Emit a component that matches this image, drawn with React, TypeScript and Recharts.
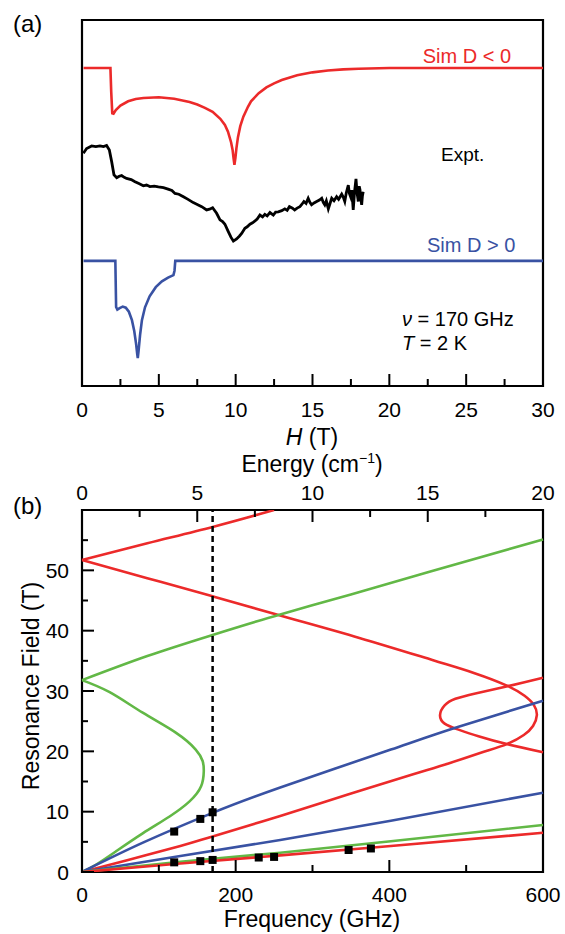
import {
  ComposedChart,
  Line,
  Scatter,
  XAxis,
  YAxis,
  ReferenceArea,
  ReferenceLine
} from "recharts"

const FONT = '"Liberation Sans", Arial, Helvetica, sans-serif'
const RED = "#ec2a2a"
const BLUE = "#3952a3"
const GREEN = "#62b846"

// (a) spectra at 170 GHz : [H (T), intensity (arb., offset)]
const simNeg: [number, number][] = [
  [0.1, 86.9], [1.85, 86.9], [1.9, 80.5], [1.97, 74.5], [2.05, 74.4], [2.2, 75.4],
  [2.5, 76.6], [3, 77.8], [3.5, 78.4], [4, 78.7], [5, 78.9], [6, 78.5], [7, 77.6],
  [7.5, 76.9], [8, 76.0], [8.5, 74.9], [9, 73.0], [9.3, 71.3], [9.5, 69.5], [9.7, 66.6],
  [9.8, 64.5], [9.87, 62.0], [9.92, 60.4], [9.98, 62.2], [10.05, 65.0], [10.15, 68.0],
  [10.3, 71.0], [10.5, 73.6], [10.8, 76.3], [11, 77.8], [11.5, 80.0], [12, 81.6],
  [12.5, 82.7], [13, 83.6], [14, 84.9], [15, 85.7], [16, 86.2], [17, 86.5], [18, 86.7],
  [20, 86.9], [30, 86.9]
]

const expt: [number, number][] = [
  [0.09, 63.6], [0.3, 64.9], [0.63, 65.6], [0.9, 65.4], [1.17, 65.6], [1.4, 65.4], [1.6, 65.7],
  [1.78, 64.5], [1.93, 61.3], [2.08, 57.7], [2.26, 56.9], [2.42, 57.3], [2.58, 57.5],
  [2.75, 57.0], [2.9, 56.7], [3.2, 56.4], [3.45, 55.8], [3.7, 55.3], [3.99, 54.7],
  [4.2, 54.9], [4.42, 54.5], [4.7, 54.6], [4.97, 54.4], [5.3, 54.2], [5.6, 53.8],
  [5.85, 53.4], [6.05, 52.6], [6.3, 52.4], [6.6, 51.7], [6.9, 51.0], [7.24, 50.1],
  [7.5, 49.6], [7.79, 49.0], [8.11, 48.1], [8.3, 48.3], [8.5, 48.7], [8.76, 47.2],
  [8.98, 45.4], [9.15, 44.9], [9.3, 44.2], [9.52, 42.2], [9.7, 40.6], [9.85, 39.6],
  [10.06, 40.2], [10.25, 41.0], [10.39, 41.7], [10.6, 43.1], [10.75, 43.5], [10.93, 44.2],
  [11.1, 44.6], [11.26, 45.1], [11.4, 45.6], [11.58, 46.7], [11.75, 46.2], [11.9, 46.9],
  [12.05, 46.5], [12.23, 47.4], [12.45, 46.7], [12.6, 47.5], [12.77, 47.6], [13.0, 47.9],
  [13.2, 48.4], [13.35, 48.0], [13.5, 49.0], [13.7, 48.6], [13.84, 48.1], [14.0, 48.6],
  [14.18, 49.0], [14.3, 49.6], [14.44, 50.4], [14.58, 49.9], [14.72, 51.3], [14.83, 50.2],
  [14.94, 49.5], [15.1, 50.0], [15.27, 50.4], [15.45, 50.8], [15.6, 51.3], [15.7, 50.2],
  [15.8, 49.5], [15.9, 50.6], [16.03, 48.4], [16.15, 50.0], [16.25, 51.3], [16.4, 50.6],
  [16.57, 51.7], [16.7, 51.0], [16.9, 52.4], [17.0, 51.6], [17.1, 50.4], [17.2, 52.8],
  [17.33, 54.9], [17.4, 52.6], [17.48, 51.7], [17.56, 53.5], [17.65, 48.1], [17.74, 53.2],
  [17.83, 56.6], [17.9, 52.8], [17.98, 50.4], [18.04, 54.6], [18.09, 53.6], [18.15, 51.0],
  [18.2, 49.5], [18.25, 52.0], [18.3, 53.1]
]

const simPos: [number, number][] = [
  [0.1, 34.2], [2.17, 34.2], [2.22, 21.6], [2.3, 20.9], [2.45, 21.3], [2.65, 21.7],
  [2.85, 21.4], [3.05, 20.3], [3.25, 18.0], [3.4, 15.0], [3.52, 11.5], [3.6, 8.5],
  [3.63, 7.6], [3.68, 9.5], [3.78, 14.0], [3.9, 18.0], [4.1, 21.5], [4.4, 24.5],
  [4.8, 27.0], [5.2, 28.6], [5.6, 29.6], [5.95, 30.3], [6.02, 31.5], [6.07, 34.2],
  [30, 34.2]
]

const hTicks = [0, 2.5, 5, 7.5, 10, 12.5, 15, 17.5, 20, 22.5, 25, 27.5, 30]

// (b) resonance field vs frequency : [f (GHz), B (T)]
const redTop: [number, number][] = [[0, 51.7], [85, 54.5], [170, 57.2], [250, 60.0]]
const redMid: [number, number][] = [
  [0, 51.7], [85, 48.7], [170, 45.7], [258, 42.5], [361, 38.8], [457, 35.1], [510, 33.0],
  [553, 30.9], [576, 29.2], [588, 27.7], [592, 26.0], [587, 24.2], [575, 22.7], [553, 21.2],
  [520, 19.8], [477, 18.0], [431, 16.2], [345, 12.8], [258, 9.3], [170, 5.9], [128, 4.3],
  [60, 2.0], [0, 0]
]
const redLoop: [number, number][] = [
  [600, 32.2], [551, 30.7], [512, 29.6], [486, 28.7], [472, 27.6], [466, 26.0],
  [472, 24.6], [490, 23.6], [516, 22.5], [553, 21.2], [600, 19.85]
]
const redLow: [number, number][] = [[0, 0], [128, 1.4], [258, 2.75], [402, 4.3], [600, 6.5]]
const greenTop: [number, number][] = [
  [0, 31.8], [85, 35.8], [170, 39.3], [258, 42.7], [350, 46.0], [450, 49.7], [600, 55.1]
]
const greenNose: [number, number][] = [
  [0, 31.8], [36, 29.8], [79, 26.4], [122, 23.1], [148, 20.3], [157, 18.4], [158.5, 16.7],
  [155, 14.2], [140, 11.7], [114, 9.2], [79, 6.4], [44, 3.4], [18, 1.2], [0, 0]
]
const greenLow: [number, number][] = [[0, 0], [128, 1.7], [258, 3.2], [402, 5.1], [600, 7.8]]
const blueUp: [number, number][] = [
  [0, 0], [80, 4.9], [170, 9.8], [258, 14.0], [402, 20.3], [488, 24.0], [600, 28.4]
]
const blueLow: [number, number][] = [[0, 0], [128, 2.65], [258, 5.3], [402, 8.5], [600, 13.15]]
const measured: [number, number][] = [
  [120, 6.7], [154, 8.8], [170, 9.9], [120, 1.6], [154, 1.8], [170, 2.0],
  [230, 2.4], [250, 2.5], [347, 3.65], [376, 3.9]
]

const fTicks = [0, 100, 200, 300, 400, 500, 600]
const bTicks = [0, 5, 10, 15, 20, 25, 30, 35, 40, 45, 50, 55, 60]
const eTicks = [0, 75, 150, 225, 300, 375, 450, 525, 600] // GHz positions of 0..20 cm-1

const ha = (d: [number, number][]) => d.map(([h, v]) => ({ h, v }))
const fb = (d: [number, number][]) => d.map(([f, B]) => ({ f, B }))

const isMul = (v: number, m: number) => Math.abs(v / m - Math.round(v / m)) < 1e-6

function bottomTick(majorEvery: number, labelDy: number) {
  return (p: any) => {
    const v = p.payload.value
    const major = isMul(v, majorEvery)
    return (
      <g>
        <line x1={p.x} x2={p.x} y1={p.y} y2={p.y - (major ? 12 : 7)} stroke="#000" strokeWidth={2} />
        {major && (
          <text x={p.x} y={p.y + labelDy} textAnchor="middle" fontSize={21} fontFamily={FONT} fill="#000">
            {v}
          </text>
        )}
      </g>
    )
  }
}

const topTick = (p: any) => {
  const v = p.payload.value
  const major = isMul(v, 150)
  return (
    <g>
      <line x1={p.x} x2={p.x} y1={p.y} y2={p.y + (major ? 12 : 7)} stroke="#000" strokeWidth={2} />
      {major && (
        <text x={p.x} y={p.y - 10} textAnchor="middle" fontSize={21} fontFamily={FONT} fill="#000">
          {v / 30}
        </text>
      )}
    </g>
  )
}

const leftTick = (p: any) => {
  const v = p.payload.value
  const major = isMul(v, 10)
  return (
    <g>
      <line x1={p.x} x2={p.x + (major ? 12 : 6)} y1={p.y} y2={p.y} stroke="#000" strokeWidth={2} />
      {major && v < 60 && (
        <text x={p.x - 13} y={p.y + 7.5} textAnchor="end" fontSize={21} fontFamily={FONT} fill="#000">
          {v}
        </text>
      )}
    </g>
  )
}

const txt = { fontFamily: FONT, fill: "#000" }
const LW = 2.6

export default function App() {
  const bLines: [[number, number][], string][] = [
    [redTop, RED], [redMid, RED], [redLoop, RED], [greenTop, GREEN], [greenNose, GREEN],
    [blueUp, BLUE], [blueLow, BLUE], [greenLow, GREEN], [redLow, RED]
  ]
  return (
    <div style={{ position: "absolute", left: 0, top: 0, width: 565, height: 934, background: "#fff" }}>
      <div style={{ position: "absolute", left: 0, top: 0 }}>
        <ComposedChart width={565} height={450} margin={{ top: 20, right: 22, bottom: 63, left: 82 }}>
          <XAxis
            dataKey="h"
            type="number"
            domain={[0, 30]}
            ticks={hTicks}
            interval={0}
            height={1}
            axisLine={false}
            tickLine={false}
            tickSize={0}
            tickMargin={0}
            tick={bottomTick(5, 31)}
          />
          <YAxis dataKey="v" type="number" domain={[0, 100]} hide />
          <ReferenceArea x1={0} x2={30} y1={0} y2={100} fill="none" stroke="#000" strokeWidth={2.2} />
          <Line data={ha(simNeg)} dataKey="v" stroke={RED} strokeWidth={LW} dot={false} type="linear" isAnimationActive={false} />
          <Line data={ha(expt)} dataKey="v" stroke="#000" strokeWidth={2.8} dot={false} type="linear" isAnimationActive={false} />
          <Line data={ha(simPos)} dataKey="v" stroke={BLUE} strokeWidth={LW} dot={false} type="linear" isAnimationActive={false} />
        </ComposedChart>
      </div>

      <div style={{ position: "absolute", left: 0, top: 450 }}>
        <ComposedChart width={565} height={484} margin={{ top: 59, right: 22, bottom: 61, left: 81 }}>
          <XAxis
            dataKey="f"
            type="number"
            domain={[0, 600]}
            ticks={fTicks}
            interval={0}
            height={1}
            axisLine={false}
            tickLine={false}
            tickSize={0}
            tickMargin={0}
            tick={bottomTick(200, 30)}
          />
          <XAxis
            xAxisId="top"
            orientation="top"
            dataKey="f"
            type="number"
            domain={[0, 600]}
            allowDataOverflow
            ticks={eTicks}
            interval={0}
            height={1}
            axisLine={false}
            tickLine={false}
            tickSize={0}
            tickMargin={0}
            tick={topTick}
          />
          <YAxis
            dataKey="B"
            type="number"
            domain={[0, 60]}
            allowDataOverflow
            ticks={bTicks}
            interval={0}
            width={1}
            axisLine={false}
            tickLine={false}
            tickSize={0}
            tickMargin={0}
            tick={leftTick}
          />
          <ReferenceArea x1={0} x2={600} y1={0} y2={60} fill="none" stroke="#000" strokeWidth={2.2} />
          {bLines.map(([d, c], i) => (
            <Line
              key={i}
              data={fb(d)}
              dataKey="B"
              stroke={c}
              strokeWidth={LW}
              dot={false}
              type="natural"
              isAnimationActive={false}
            />
          ))}
          <ReferenceLine x={170} stroke="#000" strokeWidth={2.5} strokeDasharray="6 4" />
          <Scatter data={fb(measured)} dataKey="B" fill="#000" shape="square" isAnimationActive={false} />
        </ComposedChart>
      </div>

      <svg width={565} height={934} style={{ position: "absolute", left: 0, top: 0, pointerEvents: "none" }}>
        <text x={13} y={32} fontSize={24} {...txt}>(a)</text>
        <text x={13} y={514} fontSize={24} {...txt}>(b)</text>

        <text x={511} y={63} fontSize={20} textAnchor="end" fontFamily={FONT} fill={RED}>Sim D &lt; 0</text>
        <text x={441} y={161} fontSize={19} {...txt}>Expt.</text>
        <text x={427} y={252} fontSize={20} fontFamily={FONT} fill={BLUE}>Sim D &gt; 0</text>
        <text x={402} y={326} fontSize={20} {...txt}>
          <tspan fontStyle="italic">ν</tspan> = 170 GHz
        </text>
        <text x={402} y={350} fontSize={20} {...txt}>
          <tspan fontStyle="italic">T</tspan> = 2 K
        </text>

        <text x={312} y={445} fontSize={23} textAnchor="middle" {...txt}>
          <tspan fontStyle="italic">H</tspan> (T)
        </text>
        <text x={312} y={472} fontSize={23} textAnchor="middle" {...txt}>
          Energy (cm<tspan dy={-9} fontSize={14}>−1</tspan><tspan dy={9}>)</tspan>
        </text>
        <text x={312} y={927} fontSize={23} textAnchor="middle" {...txt}>Frequency (GHz)</text>
        <text x={39} y={686} fontSize={23} textAnchor="middle" transform="rotate(-90 39 686)" {...txt}>
          Resonance Field (T)
        </text>
      </svg>
    </div>
  )
}
